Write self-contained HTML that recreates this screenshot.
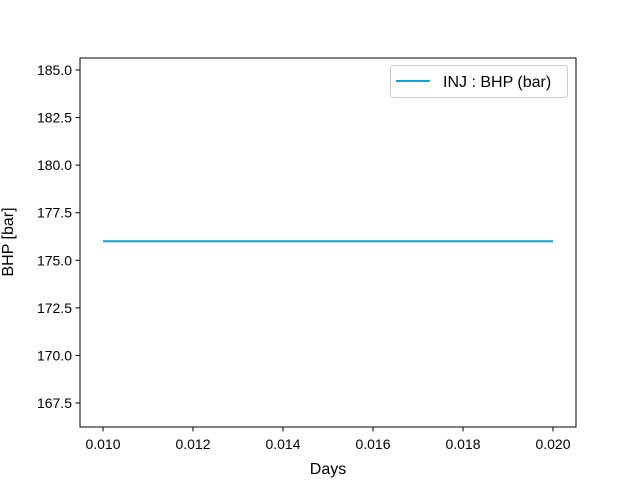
<!DOCTYPE html>
<html><head><meta charset="utf-8"><style>
body{margin:0;background:#fff;}
svg text{font-family:"Liberation Sans","DejaVu Sans",sans-serif;fill:#000;}
</style></head><body>
<svg id="chart" width="640" height="480" xmlns="http://www.w3.org/2000/svg">
<rect x="0" y="0" width="640" height="480" fill="#fff"/>
<g id="ticks"></g>
<g id="series"></g>
<rect x="80" y="58" width="496" height="369" fill="none" stroke="#000" stroke-width="1"/>
<text x="328" y="474" text-anchor="middle" font-size="16">Days</text>
<text transform="translate(13,242) rotate(-90)" text-anchor="middle" font-size="16">BHP [bar]</text>
<g>
<rect x="390.5" y="65.5" width="177" height="32" rx="3" fill="#fff" stroke="#ccc"/>
<line x1="396" y1="81" x2="430" y2="81" stroke="#0ea2d8" stroke-width="2"/>
<text x="443" y="87" font-size="16">INJ : BHP (bar)</text>
</g>
</svg>
<script>
const xValues=[0.010,0.020];
const yValues=[176,176];
const xTicks=[0.010,0.012,0.014,0.016,0.018,0.020];
const yTicks=[167.5,170.0,172.5,175.0,177.5,180.0,182.5,185.0];
function xs(v){return 103+(v-0.010)/0.010*450;}
function ys(v){return 403-(v-167.5)/17.5*333;}
const NS="http://www.w3.org/2000/svg";
const tg=document.getElementById('ticks');
xTicks.forEach(t=>{
 const l=document.createElementNS(NS,'line');
 l.setAttribute('x1',xs(t));l.setAttribute('x2',xs(t));l.setAttribute('y1',427);l.setAttribute('y2',431.5);l.setAttribute('stroke','#000');
 
 
 tg.appendChild(l);
 const tx=document.createElementNS(NS,'text');
 tx.setAttribute('x',xs(t));tx.setAttribute('y',449);tx.setAttribute('text-anchor','middle');tx.setAttribute('font-size','14');
 tx.textContent=t.toFixed(3);
 
 
 tg.appendChild(tx);
});
yTicks.forEach(t=>{
 const l=document.createElementNS(NS,'line');
 l.setAttribute('x1',75.5);l.setAttribute('x2',80);l.setAttribute('y1',ys(t));l.setAttribute('y2',ys(t));l.setAttribute('stroke','#000');
 
 
 tg.appendChild(l);
 const tx=document.createElementNS(NS,'text');
 tx.setAttribute('x',72);tx.setAttribute('y',ys(t)+5);tx.setAttribute('text-anchor','end');tx.setAttribute('font-size','14');
 tx.textContent=t.toFixed(1);
 
 
 tg.appendChild(tx);
});
const p=document.createElementNS(NS,'polyline');
p.setAttribute('points',xValues.map((x,i)=>xs(x)+','+ys(yValues[i])).join(' '));
p.setAttribute('fill','none');p.setAttribute('stroke','#0ea2d8');p.setAttribute('stroke-width','2');


document.getElementById('series').appendChild(p);
</script>
</body></html>
